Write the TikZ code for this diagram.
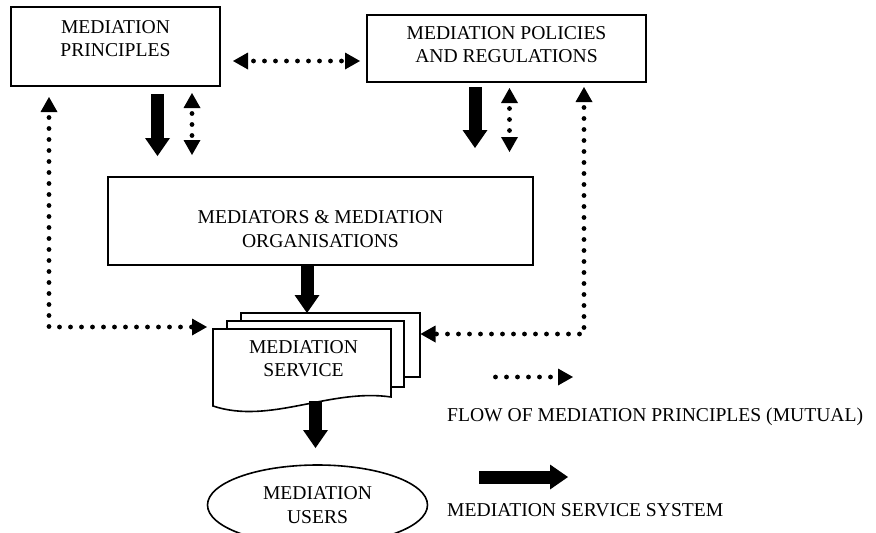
\documentclass[tikz,border=0pt]{standalone}
\usepackage{fontspec}
\setmainfont{Liberation Serif}
\usetikzlibrary{arrows.meta,shapes.geometric}
\begin{document}
\begin{tikzpicture}[x=1pt,y=-1pt,
  >={Triangle[length=15pt,width=17pt,line width=0pt]},
  txt/.style={font=\fontsize{19.6}{23.5}\selectfont},
  lbl/.style={txt, align=center, inner sep=0pt, anchor=north},
  boxnode/.style={draw, line width=1.6pt, fill=white, inner sep=0pt},
  docline/.style={line width=1.6pt, fill=white},
  thickarrow/.style={line width=13pt, -{Triangle[length=18pt,width=25pt,line width=0pt]}},
  dotline/.style={line width=4.8pt, line cap=round, dash pattern=on 0pt off 11pt, dash phase=5.5pt},
  dotboth/.style={dotline, <->},
  dotone/.style={dotline, ->},
]
\clip (0,0) rectangle (876,533);
\fill[white] (0,0) rectangle (876,533);

% boxes
\node[boxnode, minimum width=209pt, minimum height=79pt] (P) at (115.5,46.5) {};
\node[lbl] (Pt) at (115.5,20) {MEDIATION\\PRINCIPLES};
\node[boxnode, minimum width=279pt, minimum height=67pt] (R) at (506.5,48.5) {};
\node[lbl] (Rt) at (506.5,26) {MEDIATION POLICIES\\AND REGULATIONS};
\node[boxnode, minimum width=425pt, minimum height=88pt] (M) at (320.5,221) {};
\node[lbl] (Mt) at (320.5,210.5) {MEDIATORS \& MEDIATION\\ORGANISATIONS};

% document stack
\draw[docline] (241,313) rectangle (420,377);
\draw[docline] (227,321) rectangle (404,387);
\draw[docline] (213,329) -- (391,329) -- (391,397) .. controls (330,388) and (270,425) .. (213,406) -- cycle;
\node[lbl] (S) at (303.5,340) {MEDIATION\\SERVICE};

% users
\node[draw, ellipse, line width=1.6pt, minimum width=220pt, minimum height=80pt, inner sep=0pt, txt, align=center] (U) at (317.5,505) {MEDIATION\\USERS};

% legend texts
\node[txt, inner sep=0pt, anchor=base west] (L1) at (447,421) {FLOW OF MEDIATION PRINCIPLES (MUTUAL)};
\node[txt, inner sep=0pt, anchor=base west] (L2) at (447,516.5) {MEDIATION SERVICE SYSTEM};

% connector end points
\coordinate (a1s) at (157.5,94);  \coordinate (a1e) at (157.5,156);
\coordinate (a2s) at (475,87);    \coordinate (a2e) at (475,148);
\coordinate (a3s) at (307,266);   \coordinate (a3e) at (307,313);
\coordinate (a4s) at (315.5,401); \coordinate (a4e) at (315.5,448);
\coordinate (g1s) at (479,477);   \coordinate (g1e) at (568,477);
\coordinate (d1a) at (233,61);    \coordinate (d1b) at (360,61);
\coordinate (d2a) at (192,93);    \coordinate (d2b) at (192,155);
\coordinate (d3a) at (509.5,88);  \coordinate (d3b) at (509.5,152);
\coordinate (dLa) at (49,97);     \coordinate (dLb) at (207,327);
\coordinate (dRa) at (584,87);    \coordinate (dRb) at (420.5,334);
\coordinate (g2s) at (490,377);   \coordinate (g2e) at (573,377);

% thick arrows
\draw[thickarrow] (a1s) -- (a1e);
\draw[thickarrow] (a2s) -- (a2e);
\draw[thickarrow] (a3s) -- (a3e);
\draw[thickarrow] (a4s) -- (a4e);
\draw[thickarrow] (g1s) -- (g1e);

% dotted arrows
\draw[dotboth] (d1a) -- (d1b);
\draw[dotboth] (d2a) -- (d2b);
\draw[dotboth] (d3a) -- (d3b);
\draw[dotboth] (dLa) |- (dLb);
\draw[dotboth] (dRa) |- (dRb);
\draw[dotone] (g2s) -- (g2e);
\end{tikzpicture}
\end{document}
